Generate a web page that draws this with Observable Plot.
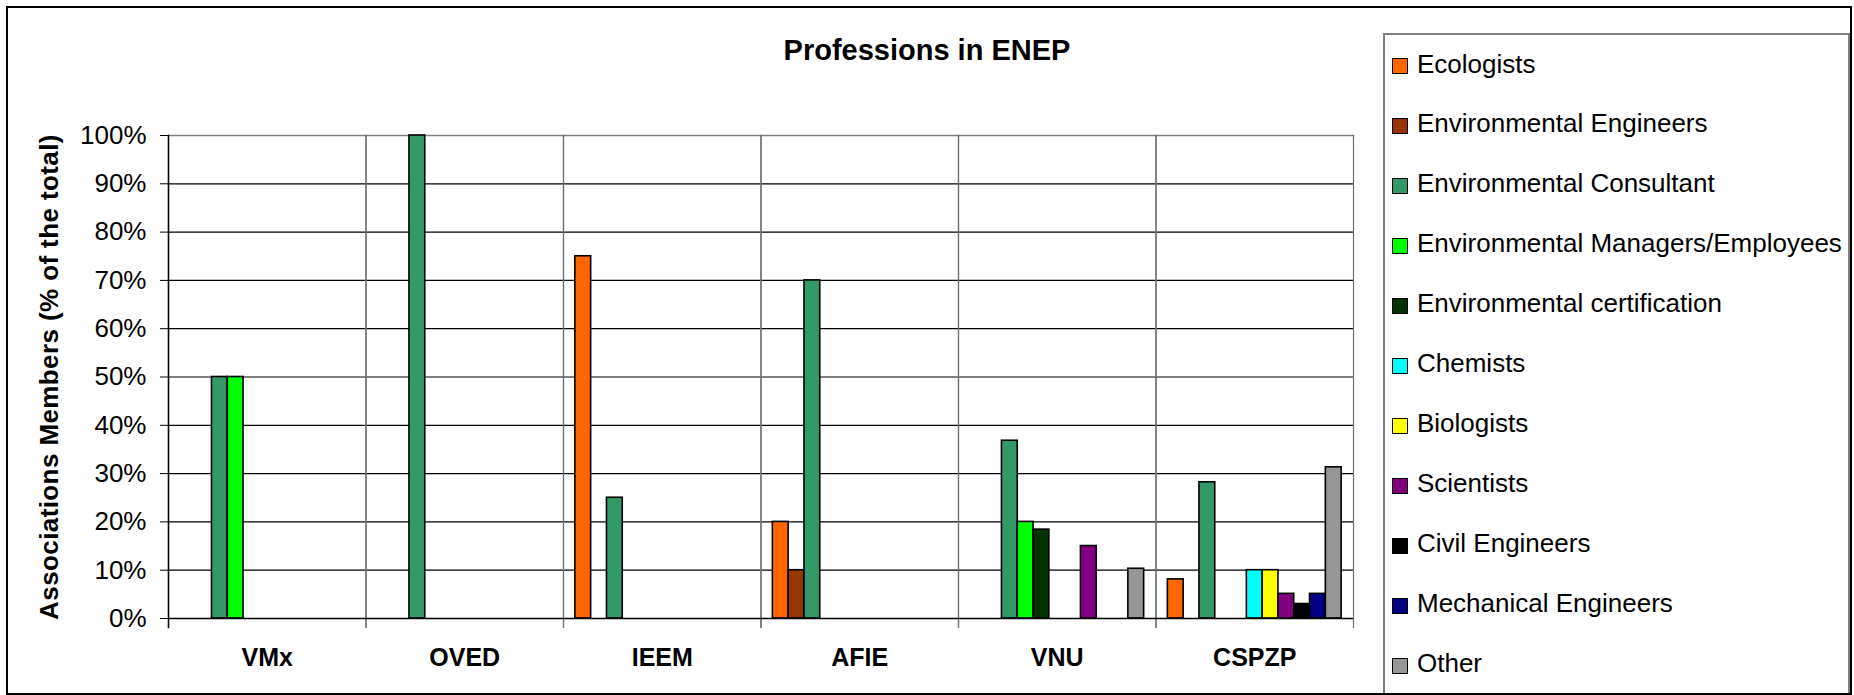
<!DOCTYPE html>
<html>
<head>
<meta charset="utf-8">
<script src="https://cdn.jsdelivr.net/npm/d3@7"></script>
<script src="https://cdn.jsdelivr.net/npm/@observablehq/plot@0.6"></script>
<style>
  html, body { margin: 0; padding: 0; background: #fff; }
  #wrap { position: relative; width: 1854px; height: 695px; overflow: hidden; font-family: "Liberation Sans", Arial, sans-serif; }
  #wrap svg { position: absolute; left: 0; top: 0; }
  #border { position: absolute; left: 6px; top: 6px; width: 1846px; height: 689px; box-sizing: border-box; border: 2px solid #000; pointer-events: none; }
  #title { position: absolute; left: 0; top: 36px; width: 1854px; text-align: center; font-weight: bold; font-size: 29px; line-height: 29px; color: #000; }
  #legend { position: absolute; left: 1383px; top: 33px; width: 467px; height: 700px; box-sizing: border-box; border: 2px solid #808080; background: #fff; }
  .item { position: absolute; left: 7px; height: 60px; display: flex; align-items: center; font-size: 26px; color: #000; white-space: nowrap; }
  .sw { width: 16px; height: 16px; box-sizing: border-box; border: 1.5px solid #000; margin-right: 9px; margin-top: 4px; flex: none; }
  svg [aria-label="y-axis label"] { font-weight: bold; letter-spacing: 0.4px; }
  svg [aria-label="fx-axis tick label"] { font-weight: bold; font-size: 25px; }
</style>
</head>
<body>
<div id="wrap"></div>
<script>
const categories = ["VMx", "OVED", "IEEM", "AFIE", "VNU", "CSPZP"];
const series = [
  "Ecologists", "Environmental Engineers", "Environmental Consultant",
  "Environmental Managers/Employees", "Environmental certification", "Chemists",
  "Biologists", "Scientists", "Civil Engineers", "Mechanical Engineers", "Other"
];
const colors = ["#FF6600", "#993300", "#339966", "#00FF00", "#003300", "#00FFFF",
  "#FFFF00", "#800080", "#000000", "#000080", "#969696"];

// values per series, in the order of categories (% of the total)
const ecologists          = [null, null, 75, 20, null, 8.1];
const envEngineers        = [null, null, null, 10, null, null];
const envConsultant       = [50, 100, 25, 70, 36.8, 28.2];
const envManagers         = [50, null, null, null, 20, null];
const envCertification    = [null, null, null, null, 18.4, null];
const chemists            = [null, null, null, null, null, 10];
const biologists          = [null, null, null, null, null, 10];
const scientists          = [null, null, null, null, 15, 5.1];
const civilEngineers      = [null, null, null, null, null, 3.0];
const mechanicalEngineers = [null, null, null, null, null, 5.1];
const other               = [null, null, null, null, 10.3, 31.3];

const yTicks = [0, 10, 20, 30, 40, 50, 60, 70, 80, 90, 100];
const title = "Professions in ENEP";
const yLabel = "Associations Members (% of the total)";

const seriesValues = [ecologists, envEngineers, envConsultant, envManagers, envCertification,
  chemists, biologists, scientists, civilEngineers, mechanicalEngineers, other];

const data = [];
seriesValues.forEach((vals, si) => {
  vals.forEach((v, ci) => {
    if (v != null) data.push({category: categories[ci], series: series[si], value: v});
  });
});

const W = 1854, H = 695;
const mLeft = 168, mRight = 501, mTop = 135, mBottom = 77;

const chart = Plot.plot({
  width: W,
  height: H,
  marginLeft: mLeft,
  marginRight: mRight,
  marginTop: mTop,
  marginBottom: mBottom,
  style: {fontFamily: "'Liberation Sans', Arial, sans-serif", fontSize: "26px", color: "#000", background: "transparent"},
  fx: {domain: categories, padding: 0, round: false, axis: "bottom", tickSize: 0, tickPadding: 30, label: null},
  x: {domain: series, paddingInner: 0, paddingOuter: 0.75, round: false, axis: null},
  y: {domain: [0, 100], ticks: yTicks, tickFormat: d => d + "%", tickSize: 8, tickPadding: 14,
      label: yLabel, labelArrow: false, labelAnchor: "center", labelOffset: 129},
  color: {domain: series, range: colors},
  marks: [
    Plot.ruleY(yTicks.filter(d => d > 0 && d < 100), {stroke: "#000", strokeWidth: 1.2}),
    Plot.frame({anchor: "top", stroke: "#808080", strokeWidth: 1.5}),
    Plot.frame({anchor: "left", stroke: "#6e6e6e", strokeWidth: 1.2, insetBottom: -9}),
    Plot.frame({anchor: "right", stroke: "#6e6e6e", strokeWidth: 1.2, insetBottom: -9}),
    Plot.frame({anchor: "left", stroke: "#000", strokeWidth: 1.5, insetBottom: -9, facetAnchor: "left"}),
    Plot.barY(data, {fx: "category", x: "series", y: "value", fill: "series", stroke: "#000", strokeWidth: 1.6}),
    Plot.ruleY([0], {stroke: "#000", strokeWidth: 1.5})
  ]
});

const wrap = document.getElementById("wrap");
wrap.appendChild(chart);

const t = document.createElement("div");
t.id = "title";
t.textContent = title;
wrap.appendChild(t);

const legend = document.createElement("div");
legend.id = "legend";
series.forEach((s, i) => {
  const item = document.createElement("div");
  item.className = "item";
  item.style.top = (-1 + i * 59.95) + "px";
  const sw = document.createElement("span");
  sw.className = "sw";
  sw.style.background = colors[i];
  const lab = document.createElement("span");
  lab.textContent = s;
  item.appendChild(sw);
  item.appendChild(lab);
  legend.appendChild(item);
});
wrap.appendChild(legend);

const border = document.createElement("div");
border.id = "border";
wrap.appendChild(border);
</script>
</body>
</html>
